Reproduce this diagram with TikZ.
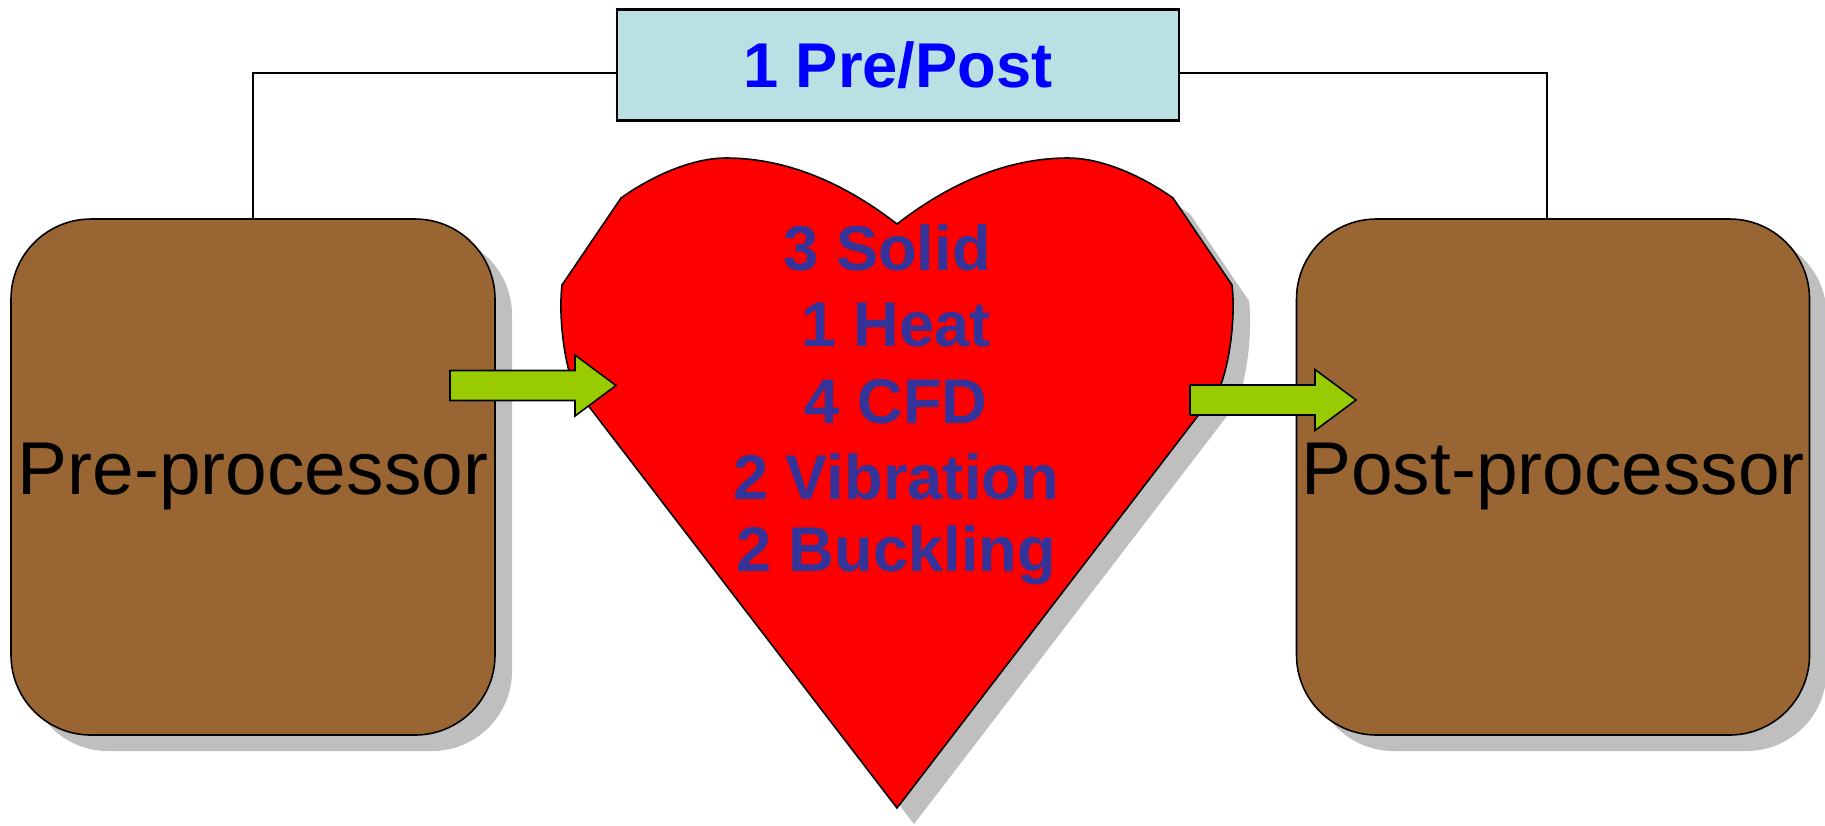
\documentclass[tikz,border=0pt]{standalone}
\usepackage{fontspec}
\setmainfont{Liberation Sans}
\usetikzlibrary{shadows}

\definecolor{boxbrown}{HTML}{996633}
\definecolor{arrowgreen}{HTML}{99CC00}
\definecolor{titleblue}{HTML}{BBE0E3}
\definecolor{jobblue}{HTML}{333399}
\definecolor{shadowgray}{HTML}{BFBFBF}

\tikzset{
  greyshadow/.style={drop shadow={shadow xshift=0.17cm, shadow yshift=-0.16cm, fill=shadowgray, opacity=1}},
  procbox/.style={draw, line width=0.45pt, fill=boxbrown, rounded corners=0.8cm,
    minimum height=5.16cm, inner sep=0pt, font=\fontsize{21.3}{25}\selectfont, greyshadow},
  titlebox/.style={draw, line width=0.8pt, fill=titleblue, minimum width=5.62cm,
    minimum height=1.11cm, font=\fontsize{18}{22}\selectfont\bfseries, text=blue},
  jobtext/.style={anchor=base, font=\fontsize{18}{22}\selectfont\bfseries, text=jobblue},
  wire/.style={line width=0.4pt},
  greenarrow/.pic={
    \draw[line width=0.45pt, fill=arrowgreen] (0,-0.15) -- (1.25,-0.15) -- (1.25,-0.305)
      -- (1.66,0) -- (1.25,0.305) -- (1.25,0.15) -- (0,0.15) -- cycle;}
}

\begin{document}
\begin{tikzpicture}
  \useasboundingbox (0,0) rectangle (18.25,-8.25);

  \node[procbox, minimum width=4.84cm] (pre) at (2.53,-4.77) {Pre-processor};
  \node[procbox, minimum width=5.13cm] (post) at (15.53,-4.77) {Post-processor};

  % heart
  \draw[line width=0.45pt, fill=red, greyshadow] (8.97,-8.08) -- (5.74,-3.87)
    .. controls (5.62,-3.55) and (5.59,-3.1) .. (5.62,-2.85) -- (6.21,-1.98)
    .. controls (6.49,-1.78) and (6.90,-1.58) .. (7.26,-1.58)
    .. controls (7.90,-1.58) and (8.48,-1.86) .. (8.97,-2.24)
    .. controls (9.46,-1.86) and (10.04,-1.58) .. (10.68,-1.58)
    .. controls (11.04,-1.58) and (11.45,-1.78) .. (11.73,-1.98) -- (12.32,-2.85)
    .. controls (12.35,-3.1) and (12.32,-3.55) .. (12.20,-3.87) -- cycle;

  \foreach \lbl/\xx/\yy [count=\i] in {3 Solid/8.87/-2.70, 1 Heat/8.96/-3.465, 4 CFD/8.96/-4.23,
      2 Vibration/8.96/-4.995, 2 Buckling/8.96/-5.71}
    \node[jobtext] (job\i) at (\xx,\yy) {\lbl};

  \pic at (4.50,-3.855) {greenarrow};
  \pic at (11.90,-4.00) {greenarrow};

  \node[titlebox] (prepost) at (8.98,-0.648) {1 Pre/Post};
  \draw[wire] ([yshift=-0.08cm]prepost.west) -| (pre.north);
  \draw[wire] ([yshift=-0.08cm]prepost.east) -| ([xshift=-0.06cm]post.north);
\end{tikzpicture}
\end{document}
